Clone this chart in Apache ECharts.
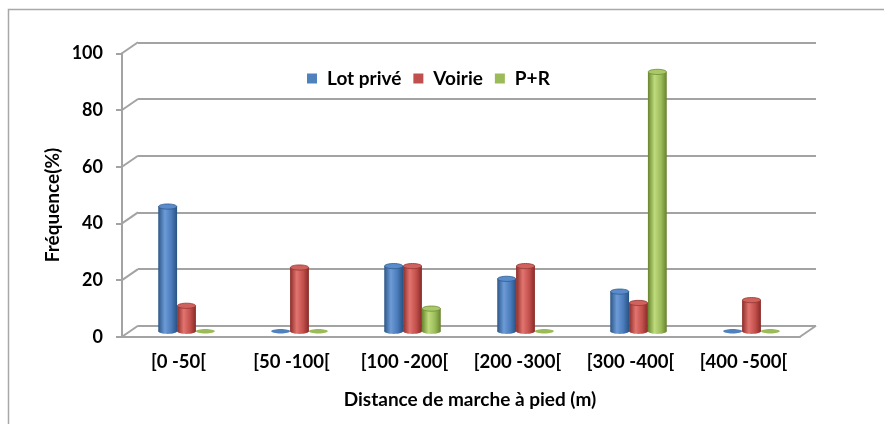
<!DOCTYPE html>
<html>
<head>
<meta charset="utf-8">
<script src="https://cdn.jsdelivr.net/npm/echarts@6/dist/echarts.min.js"></script>
<style>
  html, body { margin: 0; padding: 0; background: #fff; }
  #chart { width: 884px; height: 424px; }
</style>
</head>
<body>
<div id="chart"></div>
<script>
// Walking-distance classes and share of each parking type (%)
const categories = ['[0 -50[', '[50 -100[', '[100 -200[', '[200 -300[', '[300 -400[', '[400 -500['];
const lotPrive = [44, 0, 23, 18.5, 14, 0];
const voirie = [9, 22.5, 23, 23, 10, 11];
const pPlusR = [0, 0, 8, 0, 91.5, 0];
const yTicks = [0, 20, 40, 60, 80, 100];

const seriesNames = ['Lot privé', 'Voirie', 'P+R'];
const seriesData = [lotPrive, voirie, pPlusR];
const baseColors = ['#4f81bd', '#c0504d', '#9bbb59'];
const shades = [
  ['#2b5687', '#6d9bd6', '#4a7bbb', '#2a5283'],
  ['#8a2c29', '#e2746f', '#c24f4b', '#872a27'],
  ['#68852f', '#bedb7c', '#9bbb59', '#66822d']
];
const topColors = ['#5a8ccb', '#d0625e', '#a9c866'];
const rimColors = ['#2f5b8f', '#933532', '#6f8b36'];

// depth of the bars inside the 3D box, and depth of the box itself
const BAR_DX = 8, BAR_DY = -5.5;
const WALL_DX = 16, WALL_DY = -11;
const FONT = 'Lato';

function cylGradient(k) {
  const s = shades[k];
  return new echarts.graphic.LinearGradient(0, 0, 1, 0, [
    { offset: 0, color: s[0] },
    { offset: 0.35, color: s[1] },
    { offset: 0.7, color: s[2] },
    { offset: 1, color: s[3] }
  ]);
}

function cylinderRenderer(k) {
  return function (params, api) {
    const cat = api.value(0), v = api.value(1);
    const base = api.coord([cat, 0]);
    const top = api.coord([cat, v]);
    const band = api.size([1, 0])[0];
    const w = band / 6;
    const cx = base[0] + BAR_DX + (k - 1) * w;
    const yb = base[1] + BAR_DY;
    const yt = top[1] + BAR_DY;
    const rx = w / 2, ry = 2.6;
    if (v === 0) {
      return {
        type: 'ellipse',
        shape: { cx: cx, cy: yb, rx: rx, ry: 2.2 },
        style: { fill: baseColors[k] }
      };
    }
    return {
      type: 'group',
      children: [
        { type: 'ellipse', shape: { cx: cx, cy: yb, rx: rx, ry: ry }, style: { fill: cylGradient(k) } },
        { type: 'rect', shape: { x: cx - rx, y: yt, width: w, height: yb - yt }, style: { fill: cylGradient(k) } },
        { type: 'ellipse', shape: { cx: cx, cy: yt, rx: rx - 0.3, ry: ry },
          style: { fill: topColors[k], stroke: rimColors[k], lineWidth: 0.8 } }
      ]
    };
  };
}

const chart = echarts.init(document.getElementById('chart'), null, { renderer: 'canvas' });

const gridW = 678, gridH = 283.5;
const frontLeft = 122, frontTop = 53.3;

const option = {
  animation: false,
  backgroundColor: '#ffffff',
  textStyle: { fontFamily: FONT },
  grid: [
    { left: frontLeft, top: frontTop, width: gridW, height: gridH },
    { left: frontLeft + WALL_DX, top: frontTop + WALL_DY, width: gridW, height: gridH }
  ],
  legend: {
    data: seriesNames.map((n, i) => ({ name: n, icon: 'rect', itemStyle: { color: baseColors[i] } })),
    left: 307,
    top: 69,
    padding: 0,
    itemWidth: 10,
    itemHeight: 10,
    itemGap: 12,
    textStyle: { fontFamily: FONT, fontWeight: 'bold', fontSize: 19, color: '#000', padding: [0, 0, 0, 5] }
  },
  xAxis: [
    {
      type: 'category', gridIndex: 0, data: categories,
      axisLine: { lineStyle: { color: '#a3a3a3', width: 2 } },
      axisTick: { show: false },
      axisLabel: { interval: 0, hideOverlap: false, fontFamily: FONT, fontWeight: 'bold', fontSize: 18.5,
                   color: '#000', margin: 16 }
    },
    { type: 'value', gridIndex: 1, min: 0, max: 1, show: false }
  ],
  yAxis: [
    {
      type: 'value', gridIndex: 0, min: 0, max: 100, interval: 20,
      axisLine: { show: true, lineStyle: { color: '#a3a3a3', width: 2 } },
      axisTick: { show: true, length: 6, lineStyle: { color: '#a3a3a3', width: 2 } },
      splitLine: { show: false },
      axisLabel: { fontFamily: FONT, fontWeight: 'bold', fontSize: 18, color: '#000', margin: 19 }
    },
    {
      type: 'value', gridIndex: 1, min: 0, max: 100, interval: 20,
      axisLine: { show: false }, axisTick: { show: false }, axisLabel: { show: false },
      splitLine: { show: true, lineStyle: { color: '#a3a3a3', width: 2 } }
    }
  ],
  graphic: [
    {
      type: 'rect', silent: true, z: -1,
      shape: { x: 8.5, y: 9.5, width: 900, height: 440 },
      style: { fill: 'none', stroke: '#a8a8a8', lineWidth: 1.5 }
    },
    {
      type: 'text', silent: true, x: 53, y: 205, rotation: Math.PI / 2,
      style: { text: 'Fréquence(%)', fontFamily: FONT, fontWeight: 'bold', fontSize: 19, fill: '#000',
               align: 'center', verticalAlign: 'middle' }
    },
    {
      type: 'text', silent: true, x: 470, y: 400,
      style: { text: 'Distance de marche à pied (m)', fontFamily: FONT, fontWeight: 'bold', fontSize: 19, fill: '#000',
               align: 'center', verticalAlign: 'middle' }
    }
  ],
  series: [
    // side edges of the 3D box: diagonals from the front axis to the back wall
    {
      type: 'custom', name: 'box', xAxisIndex: 1, yAxisIndex: 1, silent: true, z: 1,
      data: yTicks.map(t => [0, t]).concat([[1, 0]]),
      renderItem: function (params, api) {
        const p = api.coord([api.value(0), api.value(1)]);
        return {
          type: 'line',
          shape: { x1: p[0], y1: p[1], x2: p[0] - WALL_DX, y2: p[1] - WALL_DY },
          style: { stroke: '#a3a3a3', lineWidth: 2 }
        };
      }
    }
  ].concat(seriesData.map((arr, k) => ({
    type: 'custom',
    name: seriesNames[k],
    xAxisIndex: 0, yAxisIndex: 0, z: 3,
    itemStyle: { color: baseColors[k] },
    data: arr.map((v, i) => [i, v]),
    renderItem: cylinderRenderer(k)
  })))
};

chart.setOption(option);
</script>
</body>
</html>
